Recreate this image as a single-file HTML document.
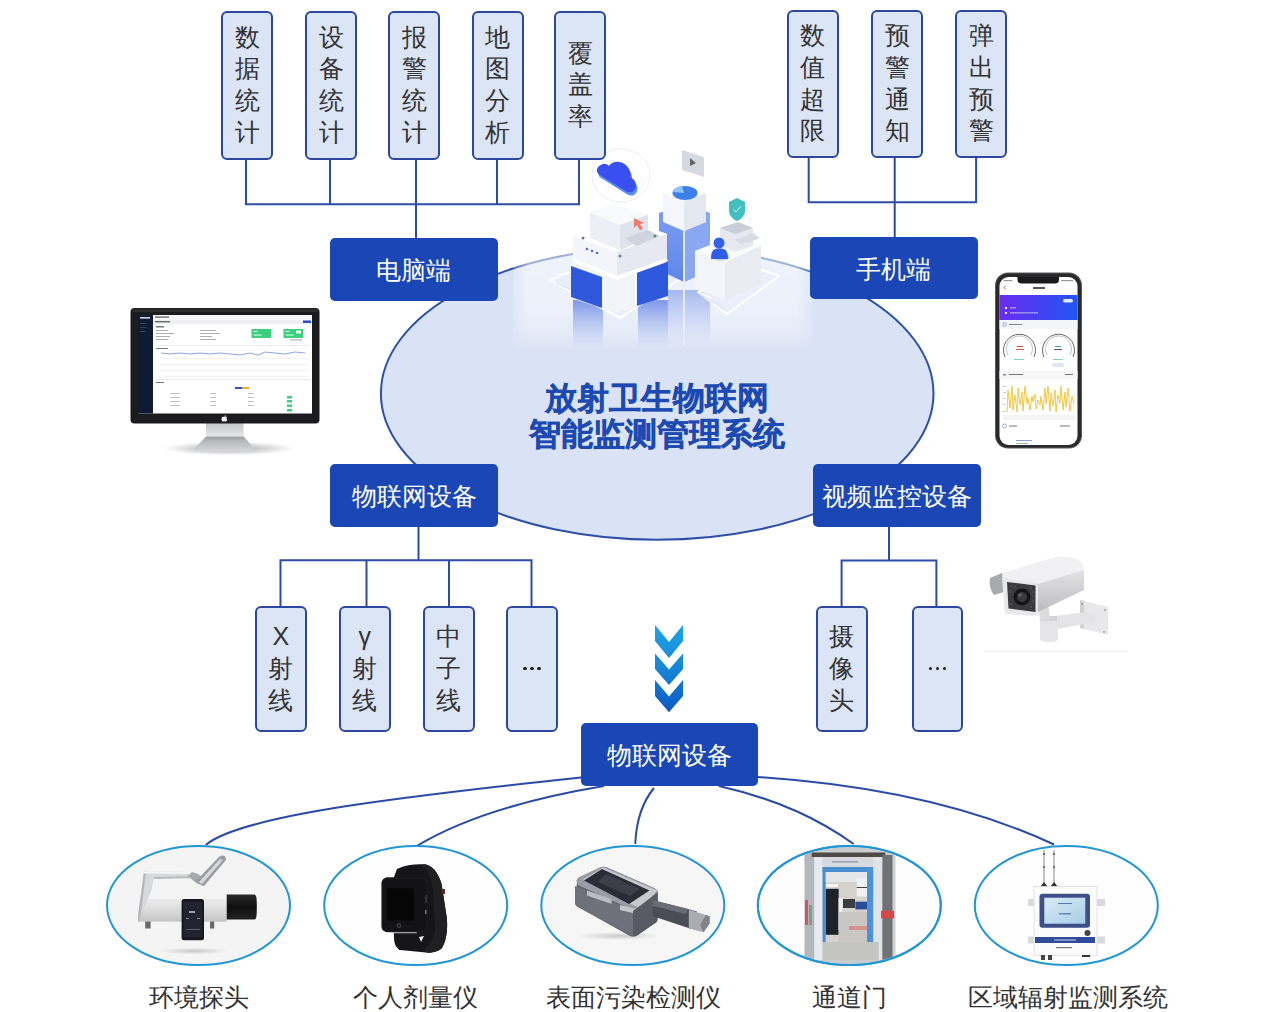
<!DOCTYPE html>
<html><head><meta charset="utf-8">
<style>
html,body{margin:0;padding:0;background:#fff;}
body{width:1265px;height:1012px;position:relative;overflow:hidden;font-family:"Liberation Sans",sans-serif;}
.vb{position:absolute;box-sizing:border-box;border:2px solid #2c47a0;border-radius:6px;background:#dce5f6;display:flex;flex-direction:column;align-items:center;justify-content:center;color:#333;font-size:25px;line-height:31.8px;}
.vb span{display:block;height:31.8px;}
.db{position:absolute;box-sizing:border-box;padding-top:2px;background:#1b46b6;border-radius:5px;color:#fff;font-size:25px;display:flex;align-items:center;justify-content:center;}
.lbl{position:absolute;color:#333;font-size:25px;line-height:30px;text-align:center;white-space:nowrap;}
svg.ov{position:absolute;left:0;top:0;}
</style></head><body>
<svg class="ov" width="1265" height="1012" viewBox="0 0 1265 1012">
  <!-- central ellipse -->
  <ellipse cx="657.2" cy="393.4" rx="276.3" ry="146.4" fill="#dae3f5" stroke="#2c50a8" stroke-width="2"/>
  <!-- top-left connectors -->
  <g stroke="#2c4ca6" stroke-width="2" fill="none" stroke-linejoin="miter">
    <path d="M246 159V204.3H579V159M330 159V204.3M416 159V238M497 159V204.3"/>
    <path d="M808.7 157V202.3H976.1V157M894.7 157V237"/>
    <path d="M418.5 526V560.3M280.5 606V560.3H531.5V606M366.5 560.3V606M449 560.3V606"/>
    <path d="M889 526V560.5M841.6 606V560.5H936.4V606"/>
  </g>
  <!-- bottom curves -->
  <g stroke="#2a4aa8" stroke-width="2" fill="none">
    <path d="M581 777.5 C390 798 240 816 205.7 845"/>
    <path d="M604 786 C520 800 460 820 416.8 846"/>
    <path d="M654 788 C640 805 636 825 635.3 844"/>
    <path d="M719 786 C780 800 820 820 853.7 844"/>
    <path d="M757.5 777 C880 785 980 810 1054 844.5"/>
  </g>
  <!-- bottom ellipses -->
  <g stroke="#2196d4" stroke-width="2">
    <ellipse cx="198.5" cy="905.5" rx="91.5" ry="59.5" fill="#f4f4f4"/>
    <ellipse cx="415.7" cy="905.5" rx="91.5" ry="59.5" fill="#fefefe"/>
    <ellipse cx="632.8" cy="905.5" rx="91.5" ry="59.5" fill="#f6f6f7"/>
    <ellipse cx="849.3" cy="905.5" rx="91.5" ry="59.5" fill="#fdfdfd"/>
    <ellipse cx="1066.3" cy="905.5" rx="91.5" ry="59.5" fill="#fefefe"/>
  </g>
  <!-- chevrons -->
  <defs>
    <linearGradient id="chev" gradientUnits="userSpaceOnUse" x1="0" y1="625" x2="0" y2="712">
      <stop offset="0" stop-color="#1ea4e6"/><stop offset="0.5" stop-color="#1686d8"/><stop offset="1" stop-color="#0b58c2"/>
    </linearGradient>
  </defs>
  <g fill="url(#chev)">
    <path d="M655 625L669 642L683 625V641L669 658L655 641Z"/>
    <path d="M655 653.5L669 669.5L683 653.5V669L669 685L655 669Z"/>
    <path d="M655 680L669 696.5L683 680V696L669 712.2L655 696Z"/>
  </g>
</svg>
<svg class="ov" width="1265" height="1012" viewBox="0 0 1265 1012">
 <defs>
  <linearGradient id="ovg" x1="0" y1="0" x2="0" y2="1">
   <stop offset="0" stop-color="#fff" stop-opacity="0.6"/>
   <stop offset="0.65" stop-color="#fff" stop-opacity="0.5"/>
   <stop offset="0.85" stop-color="#fff" stop-opacity="0.35"/>
   <stop offset="1" stop-color="#fff" stop-opacity="0"/>
  </linearGradient>
  <linearGradient id="hmask" x1="0" y1="0" x2="1" y2="0">
   <stop offset="0" stop-color="#fff" stop-opacity="0.3"/>
   <stop offset="0.05" stop-color="#fff" stop-opacity="1"/>
   <stop offset="0.95" stop-color="#fff" stop-opacity="1"/>
   <stop offset="1" stop-color="#fff" stop-opacity="0.3"/>
  </linearGradient>
  <mask id="hm"><rect x="513" y="130" width="299" height="230" fill="url(#hmask)"/></mask>
  <linearGradient id="refl" x1="0" y1="0" x2="0" y2="1">
   <stop offset="0" stop-color="#3d63e0" stop-opacity="0.9"/>
   <stop offset="1" stop-color="#6d8ee8" stop-opacity="0"/>
  </linearGradient>
  <linearGradient id="tower" x1="0" y1="0" x2="0" y2="1">
   <stop offset="0" stop-color="#7e9ff0"/>
   <stop offset="1" stop-color="#5f85ea"/>
  </linearGradient>
  <radialGradient id="cloudg" cx="0.4" cy="0.4" r="0.7">
   <stop offset="0" stop-color="#3d5ef0"/><stop offset="1" stop-color="#2a48d8"/>
  </radialGradient>
 </defs>
 <g mask="url(#hm)">
  <rect x="513" y="212" width="299" height="140" fill="url(#ovg)"/>
 </g>
 <!-- reflections below -->
 <rect x="573" y="300" width="30" height="48" fill="url(#refl)" opacity="0.7"/>
 <rect x="638" y="300" width="30" height="48" fill="url(#refl)" opacity="0.7"/>
 <rect x="668" y="290" width="42" height="55" fill="url(#refl)" opacity="0.45"/>
 <!-- glass base plates -->
 <path d="M550 280 L608 256 L692 271 L620 318 Z" fill="#e9eefb" stroke="#ffffff" stroke-width="2" stroke-linejoin="round"/>
 <path d="M556 283 L620 312" stroke="#c5d2f2" stroke-width="0.8"/>
 <path d="M698 292 L750 266 L779 276 L727 314 Z" fill="#eaeffb" stroke="#ffffff" stroke-width="2" stroke-linejoin="round"/>
 <path d="M700 294 L727 311" stroke="#cdd8f2" stroke-width="0.8"/>
 <!-- middle tower -->
 <path d="M659 213 L684 205 L710 213 L710 270 L684 282 L659 270 Z" fill="url(#tower)"/>
 <path d="M684 221 L710 213 L710 270 L684 282 Z" fill="#8aa8f2"/>
 <line x1="684" y1="221" x2="684" y2="345" stroke="#e6ecfb" stroke-width="2"/>
 <!-- tower top cube -->
 <path d="M663 193 L684 185 L706 193 L706 222 L684 231 L663 222 Z" fill="#f4f6fb"/>
 <path d="M663 193 L684 185 L706 193 L684 201 Z" fill="#ffffff"/>
 <path d="M684 201 L706 193 L706 222 L684 231 Z" fill="#e3e7f0"/>
 <ellipse cx="685" cy="193" rx="12.5" ry="7" fill="#3f7fec"/>
 <path d="M673 192 A12 7 0 0 1 682 186 L684 193 Z" fill="#8cc4ff"/>
 <!-- left building lower -->
 <path d="M571 262 L623 243 L668 260 L668 296 L616 313 L571 298 Z" fill="#f2f4f9"/>
 <path d="M571 266 L602 277 L602 308 L571 297 Z" fill="#2f59dc"/>
 <path d="M637 272 L668 261 L668 296 L637 306 Z" fill="#2f59dc"/>
 <!-- left building middle platform -->
 <path d="M573 236 L622 218 L667 234 L667 258 L617 276 L573 258 Z" fill="#f3f5fa"/>
 <path d="M573 236 L622 218 L667 234 L617 252 Z" fill="#ffffff"/>
 <path d="M617 252 L667 234 L667 258 L617 276 Z" fill="#e6e9f1"/>
 <path d="M573 258 L617 276 L667 258 L667 262 L617 280 L573 262 Z" fill="#ffffff"/>
 <circle cx="587" cy="249" r="1.3" fill="#5070d0"/><circle cx="592" cy="251" r="1.3" fill="#5070d0"/><circle cx="597" cy="253" r="1.3" fill="#5070d0"/>
 <!-- left top cube -->
 <path d="M590 213 L613 204 L648 215 L648 238 L620 250 L590 238 Z" fill="#eceff5"/>
 <path d="M590 213 L613 204 L648 215 L620 225 Z" fill="#f9fafc"/>
 <path d="M620 225 L648 215 L648 238 L620 250 Z" fill="#dfe3ec"/>
 <path d="M625 238 L648 230 L660 236 L636 246 Z" fill="#cfd4de"/>
 <circle cx="583" cy="238" r="1.5" fill="#6a7da8"/><circle cx="655" cy="236" r="1.5" fill="#6a7da8"/><circle cx="620" cy="256" r="1.5" fill="#6a7da8"/>
 <path d="M634 218 L644 223 L640 224 L643 229 L640 230 L637 225 L634 228 Z" fill="#f07a6a"/>
 <!-- cloud & orbit -->
 <ellipse cx="621" cy="175.5" rx="29" ry="26.5" fill="none" stroke="#ebedf3" stroke-width="1"/>
 <ellipse cx="620" cy="177" rx="25" ry="14" fill="none" stroke="#eef0f5" stroke-width="0.8" transform="rotate(25 620 177)"/>
 <g transform="rotate(32 620 178)">
  <path d="M601 186 C596 186 594 181 597 177 C598 174 601 173 604 173.5 C605 167 611 163 618 164 C623 164.5 627 168 628.5 172 C633 171 638 174 638.5 179 C639 183 636 186 632 186 Z" fill="#5a8cf2" transform="translate(3 2)"/>
  <path d="M601 186 C596 186 594 181 597 177 C598 174 601 173 604 173.5 C605 167 611 163 618 164 C623 164.5 627 168 628.5 172 C633 171 638 174 638.5 179 C639 183 636 186 632 186 Z" fill="#3a4ff0"/>
 </g>
 <!-- gray sign -->
 <path d="M682 150 L704 157 L704 177 L682 170 Z" fill="#d6d9e0"/>
 <path d="M690 158 L696 163 L690 166 Z" fill="#666"/>
 <!-- right building -->
 <path d="M695 251 L737 235 L761 246 L761 284 L725 300 L695 288 Z" fill="#f3f5fa"/>
 <path d="M695 251 L737 235 L761 246 L725 262 Z" fill="#fbfcfe"/>
 <path d="M725 262 L761 246 L761 284 L725 300 Z" fill="#e9ecf3"/>
 <path d="M701 292 L713 297 L713 300 L701 295 Z" fill="#ffffff" stroke="#d9def0" stroke-width="0.8"/>
 <path d="M720 228 L738 222 L753 228 L753 246 L735 252 L720 246 Z" fill="#e6e9f0"/>
 <path d="M720 228 L738 222 L753 228 L735 234 Z" fill="#c9ced8"/>
 <path d="M735 240 L753 233 L760 238 L742 245 Z" fill="#d8dce4"/>
 <!-- person -->
 <ellipse cx="721" cy="257" rx="9" ry="4" fill="#c9d3ee"/>
 <circle cx="719" cy="243" r="5.5" fill="#3361e8"/>
 <path d="M711 259 C711 250 714 248.5 719.5 248.5 C725 248.5 728 250 728 259 Z" fill="#2f5de6"/>
 <!-- shield -->
 <path d="M729 202 L737 198 L745 202 L745 211 C745 216 740 220 737 221 C734 220 729 216 729 211 Z" fill="#3fbfbf"/>
 <path d="M733 209 L736 212 L741 206" fill="none" stroke="#dff" stroke-width="1"/>
</svg>

<svg class="ov" width="1265" height="1012" viewBox="0 0 1265 1012">
 <defs>
  <linearGradient id="neck" x1="0" y1="0" x2="0" y2="1">
   <stop offset="0" stop-color="#c4c5c7"/><stop offset="1" stop-color="#e6e7e9"/>
  </linearGradient>
  <linearGradient id="basev" x1="0" y1="0" x2="0" y2="1">
   <stop offset="0" stop-color="#9c9d9f"/><stop offset="0.25" stop-color="#b4b5b7"/><stop offset="1" stop-color="#d6d7d9"/>
  </linearGradient>
  <radialGradient id="shad" cx="0.5" cy="0.5" r="0.5">
   <stop offset="0" stop-color="#000" stop-opacity="0.35"/><stop offset="1" stop-color="#000" stop-opacity="0"/>
  </radialGradient>
  <linearGradient id="camside" x1="0" y1="0" x2="0" y2="1"><stop offset="0" stop-color="#e2e2e4"/><stop offset="1" stop-color="#bdbdc0"/></linearGradient>
  <linearGradient id="phdr" x1="0" y1="0" x2="1" y2="0">
   <stop offset="0" stop-color="#6c2cf0"/><stop offset="0.6" stop-color="#3d45f0"/><stop offset="1" stop-color="#2156f2"/>
  </linearGradient>
 </defs>
 <!-- ===== Monitor ===== -->
 <ellipse cx="229" cy="448.5" rx="66" ry="7" fill="url(#shad)"/>
 <path d="M206 423 L243.6 423 L243.6 436.5 L206 436.5 Z" fill="url(#neck)"/>
 <path d="M206 436.5 L243.6 436.5 L257.4 451.5 L191.5 451.5 Z" fill="url(#basev)"/>
 <rect x="130.5" y="308" width="189" height="115.5" rx="4" fill="#1c1c1e"/>
 <rect x="131.5" y="309" width="187" height="3" rx="2" fill="#2c2c2e"/>
 <path d="M224.7 416.8 C225.5 416.2 226.6 416.3 227.1 417 C226.3 417.6 226.3 419.2 227.3 419.7 C226.9 420.8 226.2 421.6 225.5 421.6 C225 421.6 224.7 421.3 224.2 421.3 C223.7 421.3 223.4 421.6 222.9 421.6 C222 421.4 221.3 419.8 221.5 418.5 C221.7 417.2 222.6 416.6 223.5 416.7 C224 416.7 224.3 416.9 224.7 416.8 Z M224.6 416.4 C224.6 415.7 225.1 415.1 225.7 415 C225.8 415.7 225.3 416.3 224.6 416.4 Z" fill="#f0f0f0"/>
 <rect x="138" y="315" width="174" height="98.5" fill="#ffffff"/>
 <rect x="138" y="315" width="15" height="98.5" fill="#0f1a33"/>
 <rect x="140" y="317" width="10" height="1.6" fill="#c8d2ec"/>
 <rect x="140" y="323" width="6" height="0.8" fill="#3a4c70"/><rect x="140" y="327" width="6" height="0.8" fill="#3a4c70"/><rect x="140" y="331" width="5" height="0.8" fill="#3a4c70"/>
 <rect x="153" y="315" width="159" height="5" fill="#f7f7f8"/>
 <rect x="155" y="316.5" width="14" height="1.2" fill="#555"/>
 <rect x="153" y="320" width="159" height="4" fill="#eef0f3"/>
 <rect x="155" y="321" width="15" height="1.4" fill="#666"/>
 <rect x="303" y="320.5" width="8" height="2.5" fill="#2d4ec2"/>
 <rect x="156" y="326" width="8" height="1.5" fill="#777"/>
 <g fill="#999">
  <rect x="156" y="330" width="12" height="0.8"/><rect x="156" y="333" width="18" height="0.8"/><rect x="156" y="336" width="14" height="0.8"/><rect x="156" y="339" width="12" height="0.8"/>
  <rect x="200" y="330" width="16" height="0.8"/><rect x="200" y="333" width="20" height="0.8"/><rect x="200" y="336" width="12" height="0.8"/><rect x="200" y="339" width="16" height="0.8"/>
 </g>
 <rect x="251.5" y="329" width="19.5" height="9" fill="#3ccf7f"/>
 <rect x="283.5" y="329" width="19.5" height="9" fill="#3ccf7f"/>
 <g fill="#e8fff0"><rect x="253.5" y="331" width="4" height="1"/><rect x="253.5" y="334.5" width="8" height="1"/><rect x="285.5" y="331" width="4" height="1"/><rect x="285.5" y="334.5" width="8" height="1"/><rect x="296" y="330.5" width="5" height="3"/></g>
 <rect x="290" y="339.5" width="12" height="0.8" fill="#888"/>
 <rect x="155" y="345" width="155" height="0.6" fill="#ddd"/>
 <rect x="156" y="348" width="12" height="0.8" fill="#555"/>
 <polyline points="161,353 170,354 180,353 190,354 200,353 210,354 220,353 230,354 240,355 250,353 258,355 265,352 275,353 285,354 295,352 305,353" fill="none" stroke="#6f8fd8" stroke-width="0.8"/>
 <g fill="#e6e6e6"><rect x="158" y="358" width="150" height="0.5"/><rect x="158" y="364" width="150" height="0.5"/><rect x="158" y="370" width="150" height="0.5"/><rect x="158" y="376" width="150" height="0.5"/></g>
 <rect x="155" y="379" width="155" height="0.6" fill="#ddd"/>
 <rect x="156" y="382" width="8" height="0.8" fill="#555"/>
 <rect x="235" y="387" width="7" height="2" fill="#3050c8"/><rect x="242" y="387" width="7" height="2" fill="#f0b030"/>
 <g fill="#aaa">
  <rect x="170" y="393" width="10" height="0.7"/><rect x="210" y="393" width="6" height="0.7"/><rect x="248" y="393" width="6" height="0.7"/>
  <rect x="170" y="397" width="10" height="0.7"/><rect x="210" y="397" width="6" height="0.7"/><rect x="248" y="397" width="6" height="0.7"/>
  <rect x="170" y="401" width="10" height="0.7"/><rect x="210" y="401" width="6" height="0.7"/><rect x="248" y="401" width="6" height="0.7"/>
  <rect x="170" y="405" width="10" height="0.7"/><rect x="210" y="405" width="6" height="0.7"/><rect x="248" y="405" width="6" height="0.7"/>
 </g>
 <g fill="#3ccf7f"><rect x="287" y="396" width="5" height="2.5"/><rect x="287" y="400" width="5" height="2.5"/><rect x="287" y="404.5" width="5" height="2.5"/><rect x="287" y="409" width="5" height="2.5"/></g>

 <!-- ===== Phone ===== -->
 <rect x="995" y="272.5" width="87" height="176" rx="13" fill="#5a5a5c"/>
 <rect x="996" y="273.5" width="85" height="174" rx="12" fill="#2a2a2c"/>
 <rect x="999.5" y="277" width="78" height="168" rx="9" fill="#ffffff"/>
 <path d="M1017.5 277 H1059 V280 C1059 282.5 1057 283.5 1055 283.5 H1021.5 C1019.5 283.5 1017.5 282.5 1017.5 280 Z" fill="#1b1b1d"/>
 <rect x="1033" y="287" width="12" height="2" fill="#555"/>
 <path d="M1006 285.5 L1004 287.5 L1006 289.5" fill="none" stroke="#555" stroke-width="0.8"/>
 <rect x="1003.5" y="280" width="9" height="1.2" fill="#999"/><rect x="1061" y="280" width="12" height="1.2" fill="#999"/>
 <rect x="999.5" y="295" width="78" height="25" fill="url(#phdr)"/>
 <rect x="1063" y="299" width="10" height="3.5" rx="1.7" fill="#e8e8ff"/>
 <rect x="1005" y="307" width="2" height="2" fill="#fff"/><rect x="1010" y="307.5" width="6" height="0.8" fill="#ddd"/>
 <rect x="1005" y="312" width="2" height="2" fill="#fff"/><rect x="1010" y="312.5" width="28" height="0.8" fill="#ddd"/>
 <rect x="999.5" y="320" width="78" height="9" fill="#f4f5f8"/>
 <rect x="1003" y="323" width="3" height="3" fill="none" stroke="#7b8cc0" stroke-width="0.6"/>
 <rect x="1009" y="324" width="13" height="1" fill="#888"/>
 <g fill="none" stroke="#555" stroke-width="0.9">
  <path d="M1005 357 A16 16 0 1 1 1034 357"/>
  <path d="M1044 357 A16 16 0 1 1 1073 357"/>
 </g>
 <g fill="none" stroke="#999" stroke-width="0.6">
  <path d="M1008 355 A13 13 0 1 1 1031 355"/>
  <path d="M1047 355 A13 13 0 1 1 1070 355"/>
 </g>
 <rect x="1017" y="346" width="6" height="1" fill="#d05050"/><rect x="1016" y="349" width="8" height="1" fill="#d05050"/>
 <rect x="1055" y="346" width="6" height="1" fill="#40a0a0"/><rect x="1054" y="349" width="8" height="1" fill="#555"/>
 <rect x="1014" y="359" width="10" height="1" fill="#7fd0c0"/><rect x="1053" y="359" width="10" height="1" fill="#7fd0c0"/>
 <rect x="1052" y="363" width="12" height="4" rx="2" fill="#dfe4f7"/>
 <rect x="999.5" y="371" width="78" height="8" fill="#f7f7f9"/>
 <rect x="1003" y="374" width="3" height="1.5" fill="#7b8cc0"/><rect x="1009" y="374" width="14" height="1" fill="#777"/>
 <rect x="1065" y="374" width="8" height="1" fill="#777"/>
 <g fill="#aaa"><rect x="1003" y="386" width="3" height="0.6"/><rect x="1003" y="392" width="3" height="0.6"/><rect x="1003" y="398" width="3" height="0.6"/><rect x="1003" y="404" width="3" height="0.6"/><rect x="1003" y="411" width="3" height="0.6"/></g>
 <polyline points="1007,412 1008,390 1010,408 1012,386 1013,410 1015,395 1017,412 1018,388 1020,405 1022,392 1023,411 1025,386 1027,404 1028,398 1030,410 1032,396 1033,402 1035,394 1036,409 1038,400 1040,405 1041,396 1043,410 1045,388 1046,404 1048,386 1050,411 1051,393 1053,406 1055,390 1056,412 1058,395 1060,403 1061,386 1063,410 1065,392 1066,407 1068,388 1070,411 1072,396 1074,404" fill="none" stroke="#f2c230" stroke-width="0.9"/>
 <rect x="1003" y="415" width="72" height="5" fill="#f4f4f6"/>
 <circle cx="1004.5" cy="426" r="2" fill="none" stroke="#7b8cc0" stroke-width="0.7"/>
 <rect x="1009" y="425.5" width="8" height="1" fill="#777"/><rect x="1060" y="425.5" width="10" height="1" fill="#777"/>
 <rect x="1016" y="440" width="16" height="0.8" fill="#6a8ae0"/>
 <rect x="1016" y="443" width="12" height="0.8" fill="#999"/>

 <!-- ===== Camera ===== -->
 <rect x="984" y="651" width="144" height="1" fill="#f2f2f2"/>
 <path d="M1080 600 L1108 607 L1108 635 L1080 628 Z" fill="#e8e8ea"/>
 <path d="M1080 600 L1084 601 L1084 629 L1080 628 Z" fill="#cfd0d3"/>
 <circle cx="1082" cy="604" r="0.9" fill="#999"/><circle cx="1105" cy="610" r="0.9" fill="#999"/><circle cx="1104" cy="632" r="0.9" fill="#999"/>
 <path d="M1048 617 L1085 612 C1092 612 1095 616 1095 622 L1058 629 C1052 630 1048 625 1048 617 Z" fill="#e4e4e6"/>
 <path d="M1040 618 L1058 618 L1058 638 C1058 641 1055 642 1049 642 C1043 642 1040 641 1040 638 Z" fill="#e6e6e8"/>
 <rect x="1041" y="616" width="16" height="5" fill="#d4d4d6"/>
 <path d="M1038 604 L1048 602 L1050 619 L1040 621 Z" fill="#dcdcde"/>
 <path d="M990 578 L1002 573 L1056 557 C1070 556 1082 560 1083 565 L1084 580 L1038 594 L1004 590 Z" fill="#f0f0f2"/>
 <path d="M990 578 L1002 573 L1004 592 L994 595 C990 590 989 583 990 578 Z" fill="#a9aaad"/>
 <path d="M1038 584 L1084 570 L1084 590 L1038 612 Z" fill="url(#camside)"/>
 <path d="M1002 578 L1038 583 L1038 616 L1005 614 Z" fill="#e8e8ea"/>
 <path d="M1007 582 L1035.5 585.5 L1035.5 612 L1008.5 608.5 Z" fill="#3b3b3e"/>
 <g fill="#6a6a6e"><circle cx="1011" cy="586" r="0.7"/><circle cx="1015" cy="586.5" r="0.7"/><circle cx="1031" cy="588" r="0.7"/><circle cx="1033" cy="592" r="0.7"/><circle cx="1011" cy="604" r="0.7"/><circle cx="1031" cy="607" r="0.7"/><circle cx="1010" cy="592" r="0.7"/><circle cx="1033" cy="601" r="0.7"/></g>
 <circle cx="1022" cy="597" r="8.5" fill="#151516"/>
 <circle cx="1022" cy="597" r="5" fill="#3a3a3d"/>
 <circle cx="1020" cy="595" r="1.5" fill="#666"/>
</svg>

<svg class="ov" width="1265" height="1012" viewBox="0 0 1265 1012">
 <defs>
  <clipPath id="e4"><ellipse cx="849.3" cy="905.5" rx="90.5" ry="58.5"/></clipPath>
  <linearGradient id="tube" x1="0" y1="0" x2="0" y2="1">
   <stop offset="0" stop-color="#f4f4f4"/><stop offset="0.5" stop-color="#e2e2e2"/><stop offset="1" stop-color="#c4c4c4"/>
  </linearGradient>
  <linearGradient id="blk" x1="0" y1="0" x2="0" y2="1">
   <stop offset="0" stop-color="#2a2a2a"/><stop offset="0.5" stop-color="#101010"/><stop offset="1" stop-color="#222"/>
  </linearGradient>
  <radialGradient id="shd2" cx="0.5" cy="0.5" r="0.5">
   <stop offset="0" stop-color="#000" stop-opacity="0.18"/><stop offset="1" stop-color="#000" stop-opacity="0"/>
  </radialGradient>
  <linearGradient id="scr5" x1="0" y1="0" x2="1" y2="1">
   <stop offset="0" stop-color="#d8ecf8"/><stop offset="1" stop-color="#a8cce6"/>
  </linearGradient>
  <linearGradient id="body3" x1="0" y1="0" x2="0" y2="1">
   <stop offset="0" stop-color="#7a7d86"/><stop offset="1" stop-color="#52555d"/>
  </linearGradient>
 </defs>
 <!-- 1 environment probe -->
 <ellipse cx="194" cy="951" rx="34" ry="3.5" fill="url(#shd2)"/>
 <path d="M144 871.5 L195 872 L197 876 L154 877.5 L151 893 L138 922 L138 916 Z" fill="#d8d9dc"/>
 <path d="M144 871.5 L146 872 L140 921 L138 922 L138 916 Z" fill="#b5b6b9"/>
 <path d="M144 871.5 L195 872 L195 874 L144 873.5 Z" fill="#f6f6f7"/>
 <path d="M154 877 L196 876 L196 878 L154 879 Z" fill="#b9babd"/>
 <path d="M188 876 L192 872 L198 874 L206 880 L203 886 L196 883 Z" fill="#a8aaae"/>
 <path d="M196 881 L219 857 C221 855 224 855 225.5 857 L226 860 L204 886 Z" fill="#9a9ca1"/>
 <path d="M199 882 L220 859 L223 860 L202 884 Z" fill="#d6d8db"/>
 <path d="M138 921.5 L151.5 891 L226.7 891 L226.7 921.7 Z" fill="url(#tube)"/>
 <path d="M151.5 891 L226.7 891 L226.7 899 L148 899 Z" fill="#f3f3f4"/>
 <rect x="145.2" y="921.5" width="5.4" height="7" fill="#6a6a6c"/><rect x="210" y="921.5" width="4.2" height="7" fill="#6a6a6c"/>
 <path d="M226.7 894.6 L254 894.6 C256.5 894.6 256.8 898 256.8 907 C256.8 916 256.5 919.6 254 919.6 L226.7 919.6 Z" fill="url(#blk)"/>
 <rect x="181.6" y="899" width="22.4" height="41.2" rx="2.5" fill="#17171d"/>
 <rect x="183.5" y="902" width="18.6" height="35" fill="#22232e"/>
 <rect x="189" y="911" width="6" height="2" fill="#9aa0b0"/><rect x="186" y="918" width="3" height="1" fill="#8a90a0"/><rect x="197" y="918" width="3" height="1" fill="#8a90a0"/><rect x="186" y="929" width="14" height="0.8" fill="#6a7080"/>
 <!-- 2 watch -->
 <path d="M394 877 L397 869 C405 865 414 864 424 864.3 C432 865 438 872 441.6 884 L446.8 918 C448 930 446 942 441.6 948.4 C437 952 431 953 426 952.6 L400 950 C396 948 394 944 393.9 936 Z" fill="#161618"/>
 <path d="M424 864.3 C432 865 438 872 441.6 884 L446.8 918 C448 930 446 942 441.6 948.4 C437 952 431 953 426 952.6 L424 948 C430 946 434 940 435 930 L433 890 C431 878 428 870 421 866 Z" fill="#202022"/>
 <rect x="442" y="889" width="3" height="5" fill="#5a2828"/>
 <rect x="381.4" y="877.3" width="46.7" height="55" rx="6" fill="#1b1b1d"/>
 <rect x="383" y="879" width="43.5" height="52" rx="5" fill="#131315"/>
 <rect x="387" y="888.2" width="26.6" height="32.2" rx="1" fill="#060607"/>
 <rect x="425" y="895" width="2" height="8" fill="#333"/>
 <rect x="425" y="910" width="1.5" height="4" fill="#777"/>
 <circle cx="399" cy="925.6" r="1.8" fill="none" stroke="#666" stroke-width="0.7"/>
 <rect x="394" y="932" width="22.7" height="1.3" fill="#a0a0a2"/>
 <path d="M419 937 L424 936 L421 942 Z" fill="#eee"/>
 <!-- 3 surface contamination meter -->
 <ellipse cx="618" cy="936" rx="42" ry="4" fill="url(#shd2)"/>
 <path d="M577 882 C576 880 578 878 580 877 L600 867.5 C602 866.5 605 866.5 607 867.5 L654 888 C657 889.5 658 891 658 894 L657.5 919 C657.5 921 656.5 922.5 654.5 923.5 L637 935.5 C635 937 632 937 630 936 L578 907 C576 906 575 904 575 902 Z" fill="#62656e"/>
 <path d="M577 882 C576 880 578 878 580 877 L600 867.5 C602 866.5 605 866.5 607 867.5 L654 888 C657 889.5 658 891 657 893 L640 909 C638 911 635 911 633 910 L580 886 C578 885 577 884 577 882 Z" fill="#9a9da5"/>
 <path d="M583 879.5 L603 867.5 L657 890.5 L641 909 Z" fill="#c6c8ce"/>
 <path d="M584 880.5 L602 869 L649.5 890.5 L629 904 Z" fill="#2a2d35"/>
 <path d="M606 874 L640 889 L630 896 L598 882 Z" fill="#3c3f48"/>
 <path d="M575 886 L633 911 L633 936 L578 907 C576 906 575 904 575 902 Z" fill="#6e7179"/>
 <path d="M587 890.5 L611.6 899 L611.6 904 L587 895.5 Z" fill="#b9bcc2"/>
 <path d="M620 905 L641 910 L641 915 L620 910 Z" fill="#c3c5cb"/>
 <path d="M633 911 L657 893 L657.5 919 C657.5 921 656.5 922.5 654.5 923.5 L637 935.5 L633 936 Z" fill="#585b63"/>
 <path d="M653 900.3 L688 909 L697 911.4 L690 928.5 L653 916.3 Z" fill="#4a4d55"/>
 <path d="M653 900.3 L688 909 L686 914 L653 906 Z" fill="#6a6d75"/>
 <path d="M688.8 909.5 L709.6 916.3 L709.6 923.6 L703.5 932.2 L688.8 928.5 Z" fill="#a9acb2"/>
 <path d="M703.5 932.2 L709.6 923.6 L709.6 916.3 L706 915 L700 925 Z" fill="#80838a"/>
 <!-- 4 door photo -->
 <g clip-path="url(#e4)">
  <rect x="804.6" y="845" width="90.7" height="120" fill="#c9cccf"/>
  <rect x="804.6" y="845" width="9.7" height="120" fill="#b4b7bb"/>
  <rect x="805" y="900" width="3" height="25" fill="#c85a5a"/>
  <rect x="809" y="905" width="3" height="20" fill="#7aa08a"/>
  <rect x="811.7" y="852.5" width="73.5" height="4.5" fill="#4e4a48"/>
  <rect x="814.3" y="857" width="8.3" height="103" fill="#e6eaee"/>
  <rect x="822.6" y="857" width="60" height="10" fill="#d6d9dd"/>
  <rect x="832" y="861" width="26" height="1.5" fill="#9aa0b0"/>
  <rect x="822.6" y="867" width="50.8" height="5" fill="#4a8ed0"/>
  <rect x="822.6" y="867" width="3.2" height="75" fill="#4a8ed0"/>
  <rect x="867" y="869" width="6.4" height="73" fill="#4b93d6"/>
  <rect x="873.4" y="857" width="9" height="103" fill="#dfe3e7"/>
  <rect x="882.4" y="855" width="10.3" height="106" fill="#707276"/>
  <rect x="892.7" y="855" width="2.6" height="106" fill="#d0d2d4"/>
  <rect x="881" y="910.7" width="13" height="7.7" fill="#d84848"/>
  <rect x="825.8" y="872" width="41.2" height="70" fill="#d5d2ce"/>
  <rect x="825.8" y="872" width="41.2" height="10" fill="#e4e6e8"/>
  <rect x="826" y="884" width="12" height="3" fill="#f4f6f8"/>
  <rect x="856.7" y="878.6" width="10.3" height="18" fill="#eef0f2"/>
  <rect x="856.7" y="887" width="10.3" height="1" fill="#444"/>
  <rect x="825.8" y="888.8" width="12.9" height="46" fill="#1f2329"/>
  <rect x="838.5" y="898" width="4" height="32" fill="#eceef0"/>
  <rect x="843" y="899" width="12" height="9" fill="#3a3c40"/>
  <rect x="855.4" y="901.7" width="11.6" height="7.7" fill="#2a4a9a"/>
  <rect x="838.7" y="912" width="28.3" height="30" fill="#c9c7c3"/>
  <rect x="849" y="926" width="18" height="4" fill="#d89090"/>
  <rect x="822.6" y="942" width="56" height="18" fill="#c4c4c0"/>
 </g>
 <ellipse cx="849.3" cy="905.5" rx="91.5" ry="59.5" fill="none" stroke="#2196d4" stroke-width="2"/>
 <!-- 5 area monitoring system -->
 <g stroke="#8a8a8a" stroke-width="1"><line x1="1044" y1="850" x2="1044" y2="885"/><line x1="1054" y1="850" x2="1054" y2="885"/></g>
 <g fill="#555"><circle cx="1044" cy="854" r="1"/><circle cx="1054" cy="854" r="1"/><circle cx="1044" cy="867" r="1"/><circle cx="1054" cy="867" r="1"/></g>
 <path d="M1040 887 L1044 882 L1048 887 Z" fill="#333"/><path d="M1050 887 L1054 882 L1058 887 Z" fill="#333"/>
 <rect x="1028" y="899" width="6" height="7" fill="#d9d9d9"/><rect x="1028" y="936.5" width="6" height="7" fill="#d9d9d9"/>
 <rect x="1097" y="899" width="8" height="7" fill="#d9d9d9"/><rect x="1097" y="936.5" width="8" height="7" fill="#d9d9d9"/>
 <rect x="1034" y="886.5" width="63" height="69" fill="#fbfbfb" stroke="#dedede" stroke-width="0.8"/>
 <rect x="1039.5" y="893.8" width="50.5" height="34" rx="3" fill="#3d4f88"/>
 <rect x="1044.3" y="897.7" width="41" height="26" fill="url(#scr5)"/>
 <rect x="1058" y="903" width="14" height="1" fill="#5a7aa8"/><rect x="1059" y="913" width="12" height="1.5" fill="#6a88b8"/>
 <circle cx="1087.5" cy="933" r="3" fill="#444"/>
 <rect x="1035" y="937" width="60" height="6" fill="#2e4a98"/>
 <rect x="1054" y="939.5" width="22" height="1" fill="#c8d4f0"/>
 <rect x="1056" y="947" width="16" height="1.2" fill="#777"/>
 <rect x="1041" y="955" width="4" height="5" fill="#444"/><rect x="1048" y="955" width="4" height="5" fill="#444"/><rect x="1082" y="955" width="8" height="2" fill="#333"/>
</svg>

<div class="vb" style="left:221px;top:11px;width:52px;height:148.5px"><span>数</span><span>据</span><span>统</span><span>计</span></div>
<div class="vb" style="left:305px;top:11px;width:52px;height:148.5px"><span>设</span><span>备</span><span>统</span><span>计</span></div>
<div class="vb" style="left:388px;top:11px;width:52px;height:148.5px"><span>报</span><span>警</span><span>统</span><span>计</span></div>
<div class="vb" style="left:471.5px;top:11px;width:52px;height:148.5px"><span>地</span><span>图</span><span>分</span><span>析</span></div>
<div class="vb" style="left:554.3px;top:11px;width:52px;height:148.5px"><span>覆</span><span>盖</span><span>率</span></div>
<div class="vb" style="left:786.5px;top:9.5px;width:52px;height:148px"><span>数</span><span>值</span><span>超</span><span>限</span></div>
<div class="vb" style="left:871px;top:9.5px;width:52px;height:148px"><span>预</span><span>警</span><span>通</span><span>知</span></div>
<div class="vb" style="left:955px;top:9.5px;width:52px;height:148px"><span>弹</span><span>出</span><span>预</span><span>警</span></div>
<div class="vb" style="left:255px;top:605.5px;width:51.5px;height:126.5px"><span>X</span><span>射</span><span>线</span></div>
<div class="vb" style="left:339px;top:605.5px;width:51.5px;height:126.5px"><span>γ</span><span>射</span><span>线</span></div>
<div class="vb" style="left:423px;top:605.5px;width:51.5px;height:126.5px"><span>中</span><span>子</span><span>线</span></div>
<div class="vb" style="left:506px;top:605.5px;width:51.5px;height:126.5px"><i style="position:absolute;left:15.0px;top:59.450000000000045px;width:3.5px;height:3.5px;border-radius:50%;background:#222;"></i><i style="position:absolute;left:22.0px;top:59.450000000000045px;width:3.5px;height:3.5px;border-radius:50%;background:#222;"></i><i style="position:absolute;left:29.0px;top:59.450000000000045px;width:3.5px;height:3.5px;border-radius:50%;background:#222;"></i></div>
<div class="vb" style="left:816px;top:605.5px;width:51.5px;height:126.5px"><span>摄</span><span>像</span><span>头</span></div>
<div class="vb" style="left:911.5px;top:605.5px;width:51.5px;height:126.5px"><i style="position:absolute;left:15.0px;top:59.450000000000045px;width:3.5px;height:3.5px;border-radius:50%;background:#222;"></i><i style="position:absolute;left:22.0px;top:59.450000000000045px;width:3.5px;height:3.5px;border-radius:50%;background:#222;"></i><i style="position:absolute;left:29.0px;top:59.450000000000045px;width:3.5px;height:3.5px;border-radius:50%;background:#222;"></i></div>
<div class="db" style="left:329.5px;top:238.2px;width:168.5px;height:62.5px">电脑端</div>
<div class="db" style="left:810px;top:237px;width:167.7px;height:62px">手机端</div>
<div class="db" style="left:330px;top:464.3px;width:168px;height:62.4px">物联网设备</div>
<div class="db" style="left:813px;top:464.3px;width:167.5px;height:62.4px">视频监控设备</div>
<div class="db" style="left:581px;top:723px;width:176.7px;height:62.7px">物联网设备</div>
<div style="position:absolute;left:457px;top:379.5px;width:400px;text-align:center;color:#1d4ab2;font-size:32px;font-weight:bold;line-height:36.5px;-webkit-text-stroke:0.45px #1d4ab2;">放射卫生物联网<br>智能监测管理系统</div>
<div class="lbl" style="left:98.5px;top:982px;width:200px">环境探头</div>
<div class="lbl" style="left:315.5px;top:982px;width:200px">个人剂量仪</div>
<div class="lbl" style="left:533.5px;top:982px;width:200px">表面污染检测仪</div>
<div class="lbl" style="left:749px;top:982px;width:200px">通道门</div>
<div class="lbl" style="left:968px;top:982px;width:200px">区域辐射监测系统</div>
</body></html>
